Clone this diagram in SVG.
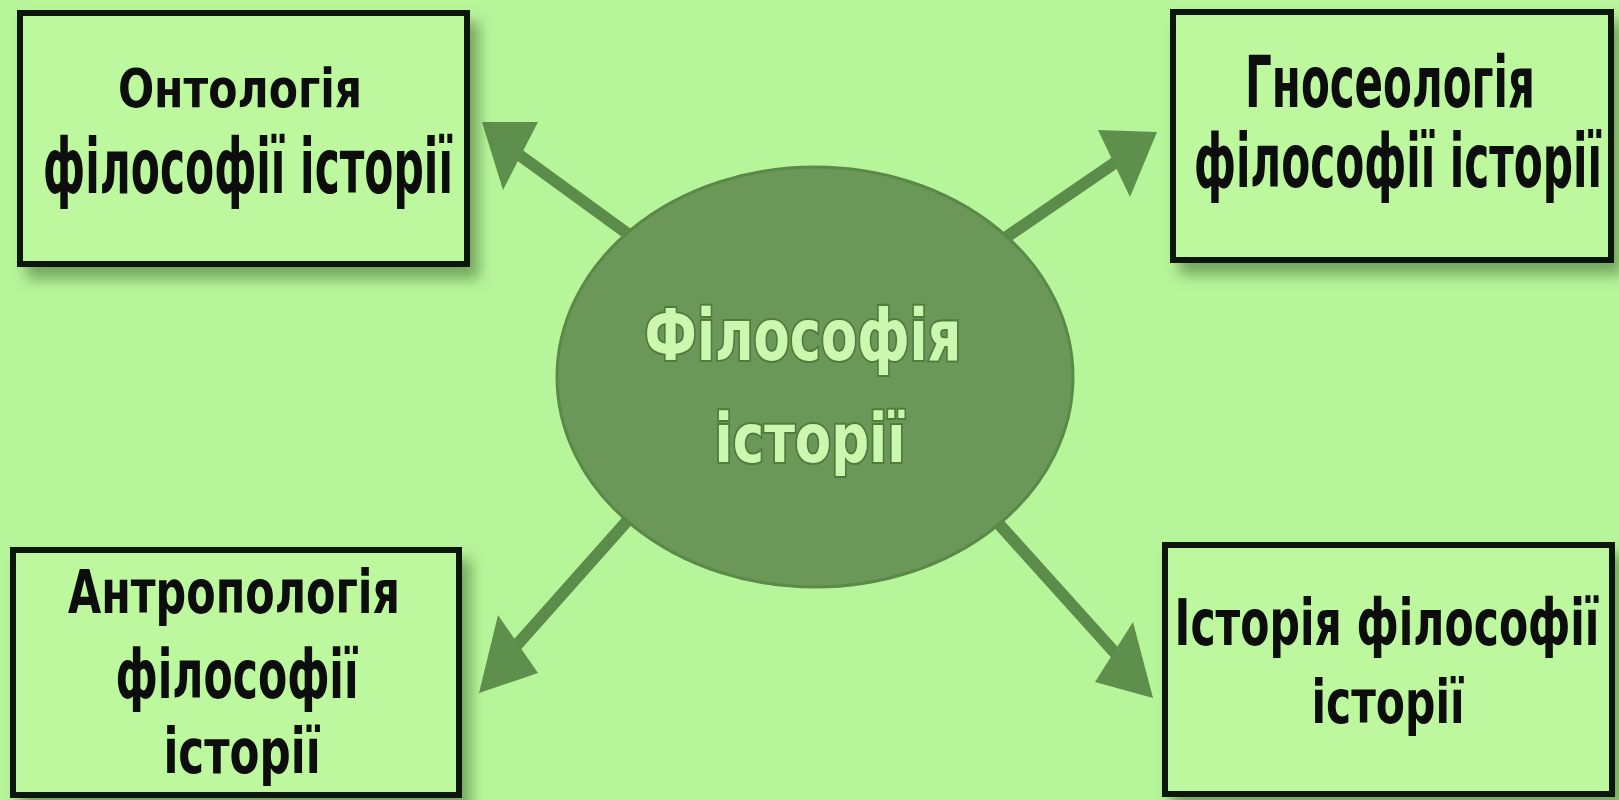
<svg xmlns="http://www.w3.org/2000/svg" width="1619" height="800" viewBox="0 0 1619 800">
  <defs>
    <filter id="shadow" x="-10%" y="-10%" width="125%" height="135%">
      <feDropShadow dx="9" dy="12" stdDeviation="7" flood-color="#3f6b2f" flood-opacity="0.55"/>
    </filter>
    <style>
      .box { fill: #bdf89f; stroke: #0b130b; stroke-width: 6; }
      .lbl { font-family: "DejaVu Sans Condensed", "Liberation Sans Narrow", "DejaVu Sans", sans-serif; font-stretch: condensed; font-weight: bold; fill: #070907; text-anchor: middle; }
      .ctr { font-family: "DejaVu Sans Condensed", "DejaVu Sans", sans-serif; font-stretch: condensed; font-weight: bold; fill: #cbf8ae; stroke: #4d7d3c; stroke-width: 4; paint-order: stroke; text-anchor: middle; }
      .ln { stroke: #5b8c49; stroke-width: 12; stroke-linecap: butt; }
      .hd { fill: #5e8f4c; }
    </style>
  </defs>
  <rect x="0" y="0" width="1619" height="800" fill="#b7f59a"/>

  <g id="connectors">
    <line class="ln" x1="628" y1="234" x2="518" y2="154"/>
    <polygon class="hd" points="482,122 538,122 503,190"/>
    <line class="ln" x1="1005" y1="238" x2="1116" y2="162"/>
    <polygon class="hd" points="1157,132 1098,130 1130,197"/>
    <line class="ln" x1="628" y1="520" x2="516" y2="646"/>
    <polygon class="hd" points="479,693 498,615 538,673"/>
    <line class="ln" x1="998" y1="523" x2="1116" y2="654"/>
    <polygon class="hd" points="1153,698 1133,622 1095,682"/>
  </g>

  <g id="center">
    <ellipse cx="815" cy="377" rx="258" ry="210" fill="#6b9859" stroke="#5a8a48" stroke-width="3"/>
    <text class="ctr" transform="translate(803,360) scale(0.6,1)" font-size="72" textLength="528" lengthAdjust="spacingAndGlyphs">Філософія</text>
    <text class="ctr" transform="translate(810,462) scale(0.6,1)" font-size="68" textLength="318" lengthAdjust="spacingAndGlyphs">історії</text>
  </g>

  <g id="ontology" filter="url(#shadow)">
    <rect class="box" x="20" y="13" width="447" height="251"/>
    <text class="lbl" transform="translate(240,107) scale(0.6,1)" font-size="54" textLength="407" lengthAdjust="spacingAndGlyphs">Онтологія</text>
    <text class="lbl" transform="translate(248,193) scale(0.6,1)" font-size="76" textLength="683" lengthAdjust="spacingAndGlyphs">філософії історії</text>
  </g>

  <g id="gnoseology" filter="url(#shadow)">
    <rect class="box" x="1173" y="12" width="438" height="248"/>
    <text class="lbl" transform="translate(1390,107) scale(0.6,1)" font-size="72" textLength="483" lengthAdjust="spacingAndGlyphs">Гносеологія</text>
    <text class="lbl" transform="translate(1398,187) scale(0.6,1)" font-size="74" textLength="680" lengthAdjust="spacingAndGlyphs">філософії історії</text>
  </g>

  <g id="anthropology" filter="url(#shadow)">
    <rect class="box" x="13" y="550" width="446" height="245"/>
    <text class="lbl" transform="translate(234,613) scale(0.6,1)" font-size="60" textLength="553" lengthAdjust="spacingAndGlyphs">Антропологія</text>
    <text class="lbl" transform="translate(237,698) scale(0.6,1)" font-size="67" textLength="405" lengthAdjust="spacingAndGlyphs">філософії</text>
    <text class="lbl" transform="translate(242,773) scale(0.6,1)" font-size="63" textLength="262" lengthAdjust="spacingAndGlyphs">історії</text>
  </g>

  <g id="history" filter="url(#shadow)">
    <rect class="box" x="1165" y="545" width="447" height="249"/>
    <text class="lbl" transform="translate(1387,645) scale(0.6,1)" font-size="64" textLength="708" lengthAdjust="spacingAndGlyphs">Історія філософії</text>
    <text class="lbl" transform="translate(1388,723) scale(0.6,1)" font-size="61" textLength="255" lengthAdjust="spacingAndGlyphs">історії</text>
  </g>
</svg>
